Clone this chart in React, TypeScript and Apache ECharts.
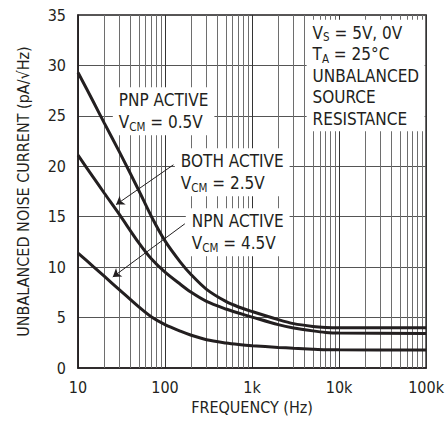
import React, { useEffect, useRef } from "react";
import * as echarts from "echarts";

const FONT = "'Liberation Sans Narrow', 'DejaVu Sans Condensed', 'Arial Narrow', sans-serif";

const frequencies = [10, 15, 20, 30, 50, 70, 100, 150, 200, 300, 500, 700, 1000, 2000, 3000, 5000, 7000, 10000, 100000];
const pnpActive = [29.3, 26.4, 24.3, 21.4, 17.6, 15.0, 12.6, 10.5, 9.25, 7.8, 6.6, 6.05, 5.6, 4.8, 4.4, 4.12, 4.02, 3.98, 3.98];
const bothActive = [21.1, 18.9, 17.35, 15.2, 12.4, 10.8, 9.5, 8.3, 7.5, 6.6, 5.85, 5.45, 5.05, 4.3, 3.97, 3.68, 3.53, 3.46, 3.43];
const npnActive = [11.4, 10.05, 9.1, 7.75, 6.05, 5.05, 4.3, 3.65, 3.25, 2.8, 2.48, 2.33, 2.21, 2.04, 1.96, 1.87, 1.82, 1.8, 1.78];

const yTicks = [0, 5, 10, 15, 20, 25, 30, 35];
const xTickLabels: Record<number, string> = { 10: "10", 100: "100", 1000: "1k", 10000: "10k", 100000: "100k" };
const decades = [10, 100, 1000, 10000];
const minorMultipliers = [2, 3, 4, 5, 6, 7, 8, 9];

// annotation anchors in data coordinates [frequency, value]
const bothArrow = [[125, 20.15], [27.4, 16.2]];
const npnArrow = [[169, 14.3], [25.1, 9.02]];
const pnpLabelAt = [24.8, 25.45];
const bothLabelAt = [128, 19.4];
const npnLabelAt = [171, 13.46];
const condLabelAt = [4180, 29.0];

const rich = {
  t: { fontFamily: FONT, fontSize: 17, color: "#231f20", lineHeight: 22 },
  s: { fontFamily: FONT, fontSize: 11.5, color: "#231f20", lineHeight: 14, verticalAlign: "bottom" as const },
  u: { fontFamily: FONT, fontSize: 17, color: "#231f20", lineHeight: 21.5 },
};

export default function App() {
  const ref = useRef<HTMLDivElement>(null);
  useEffect(() => {
    if (!ref.current) return;
    const chart = echarts.init(ref.current, null, { renderer: "svg" });
    const minorLines: number[] = [];
    decades.forEach((d) => minorMultipliers.forEach((m) => minorLines.push(d * m)));
    const pair = (vals: number[]) => frequencies.map((f, i) => [f, vals[i]]);
    const curveStyle = { color: "#231f20", width: 3 };
    const labelPoint = (coord: number[], text: string, extra: any = {}) => ({
      coord,
      symbol: "rect",
      symbolSize: 1,
      itemStyle: { color: "rgba(0,0,0,0)" },
      label: {
        show: true,
        position: "right",
        distance: 0,
        align: "left",
        verticalAlign: "middle",
        backgroundColor: "#ffffff",
        padding: [2, 6, 2, 6],
        formatter: text,
        rich,
        ...extra,
      },
    });
    const curve = (name: string, vals: number[]) => ({
      type: "line",
      name,
      data: pair(vals),
      smooth: 0.3,
      showSymbol: false,
      z: 5,
      lineStyle: curveStyle,
    });
    chart.setOption({
      animation: false,
      grid: {
        left: 78,
        right: 15,
        top: 15,
        bottom: 58,
        show: true,
        borderColor: "#231f20",
        borderWidth: 1.5,
        backgroundColor: "#fff",
      },
      xAxis: {
        type: "log",
        logBase: 10,
        min: 10,
        max: 100000,
        name: "FREQUENCY (Hz)",
        nameLocation: "middle",
        nameGap: 31,
        nameTextStyle: { fontFamily: FONT, fontSize: 16, color: "#231f20" },
        axisLine: { lineStyle: { color: "#231f20", width: 1.5 } },
        axisTick: { show: false },
        axisLabel: {
          fontFamily: FONT,
          fontSize: 16,
          color: "#231f20",
          margin: 11,
          formatter: (v: number) => xTickLabels[Math.round(v)] ?? "",
        },
        splitLine: { show: true, lineStyle: { color: "#333", width: 1 } },
      },
      yAxis: {
        type: "value",
        min: yTicks[0],
        max: yTicks[yTicks.length - 1],
        interval: 5,
        name: "UNBALANCED NOISE CURRENT (pA/√Hz)",
        nameLocation: "middle",
        nameGap: 47,
        nameTextStyle: { fontFamily: FONT, fontSize: 16, color: "#231f20" },
        axisLine: { show: true, lineStyle: { color: "#231f20", width: 1.5 } },
        axisTick: { show: false },
        axisLabel: { fontFamily: FONT, fontSize: 16, color: "#231f20", margin: 12 },
        splitLine: { show: true, lineStyle: { color: "#555", width: 1 } },
      },
      series: [
        {
          type: "line",
          data: [],
          z: 1,
          silent: true,
          markLine: {
            silent: true,
            symbol: ["none", "none"],
            label: { show: false },
            lineStyle: { color: "#6e6e6e", width: 1, type: "solid" },
            data: minorLines.map((v) => ({ xAxis: v })),
          },
        },
        curve("PNP ACTIVE", pnpActive),
        curve("BOTH ACTIVE", bothActive),
        curve("NPN ACTIVE", npnActive),
        {
          type: "line",
          data: [],
          z: 4,
          silent: true,
          markPoint: {
            silent: true,
            data: [
              labelPoint(pnpLabelAt, "{t|PNP ACTIVE}\n{t|V}{s|CM}{t| = 0.5V}"),
              labelPoint(bothLabelAt, "{t|BOTH ACTIVE}\n{t|V}{s|CM}{t| = 2.5V}"),
              labelPoint(npnLabelAt, "{t|NPN ACTIVE}\n{t|V}{s|CM}{t| = 4.5V}"),
              labelPoint(
                condLabelAt,
                "{u|V}{s|S}{u| = 5V, 0V}\n{u|T}{s|A}{u| = 25°C}\n{u|UNBALANCED}\n{u|SOURCE}\n{u|RESISTANCE}",
                { width: 106 }
              ),
            ],
          },
          markLine: {
            silent: true,
            symbol: ["none", "arrow"],
            symbolSize: 8,
            label: { show: false },
            lineStyle: { color: "#231f20", width: 1, type: "solid" },
            data: [
              [{ coord: bothArrow[0] }, { coord: bothArrow[1] }],
              [{ coord: npnArrow[0] }, { coord: npnArrow[1] }],
            ],
          },
        },
      ],
    });
    return () => chart.dispose();
  }, []);
  return <div ref={ref} style={{ position: "absolute", left: 0, top: 0, width: 447, height: 426 }} />;
}
